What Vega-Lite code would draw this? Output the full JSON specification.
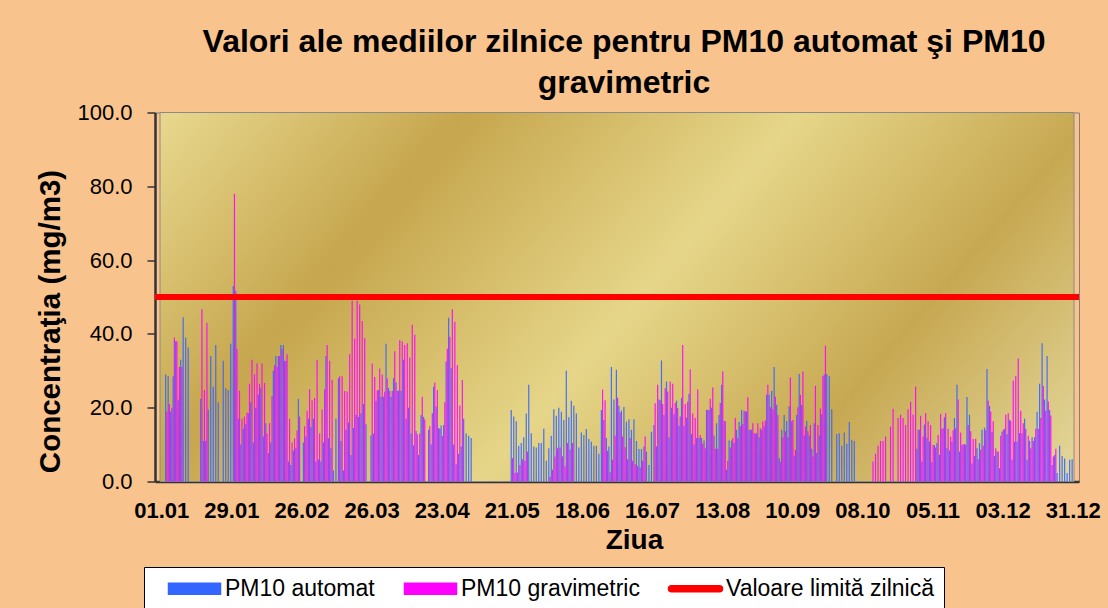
{
  "$schema": "https://vega.github.io/schema/vega-lite/v6.json",
  "width": 924,
  "height": 369,
  "autosize": {"type": "none"},
  "padding": {"left": 155, "top": 112.5, "right": 29, "bottom": 126.5},
  "background": "#f9c38d",
  "config": {
    "font": "Liberation Sans",
    "view": {"stroke": "#7f7f7f", "strokeWidth": 1},
    "axis": {"labelColor": "black", "titleColor": "black", "grid": false},
    "legend": {
      "title": null, "orient": "none", "legendX": -11, "legendY": 454.5, "direction": "horizontal",
      "fillColor": "white", "strokeColor": "black", "padding": 10,
      "labelFontSize": 23, "labelFont": "Liberation Sans", "labelColor": "black", "labelLimit": 400,
      "columnPadding": 15, "symbolSize": 100, "symbolOffset": 29, "labelOffset": 19, "symbolOpacity": 1
    }
  },
  "title": {
    "text": ["Valori ale mediilor zilnice pentru PM10 automat şi PM10", "gravimetric"],
    "font": "Liberation Sans",
    "fontSize": 32,
    "fontWeight": "bold",
    "color": "black",
    "anchor": "middle",
    "dx": 7,
    "offset": 1.5,
    "lineHeight": 41
  },
  "data": {"values": [
    {"d":0},{"d":1},{"d":2,"a":29,"g":19},{"d":3,"a":28.6,"g":21},{"d":4,"a":19,"g":20},{"d":5,"a":28.5,"g":39},{"d":6,"a":38,"g":38},{"d":7,"a":22,"g":31},{"d":8,"a":33,"g":31},{"d":9,"a":44.5},{"d":10,"a":39},{"d":11,"a":36.3},{"d":12},{"d":13},{"d":14},{"d":15},
    {"d":16,"a":22.4,"g":46.7},{"d":17,"a":11,"g":24.8},{"d":18,"a":11,"g":43},{"d":19,"a":19.5},{"d":20,"a":34},{"d":21,"a":25.7},{"d":22,"a":37},{"d":23,"a":21.5},{"d":24},{"d":25,"a":32.7},{"d":26,"a":25.3},{"d":27,"a":24.8},{"d":28,"a":37.3},{"d":29,"a":53,"g":78},{"d":30,"a":51.7,"g":36},
    {"d":31,"a":17,"g":24.6},{"d":32,"a":10,"g":17},{"d":33,"a":14.3,"g":17.6},{"d":34,"a":15.5,"g":18.7},{"d":35,"a":18.5,"g":26.5},{"d":36,"a":21.5,"g":33},{"d":37,"a":10.6,"g":29},{"d":38,"a":20,"g":32},{"d":39,"a":23.5,"g":26.5},{"d":40,"a":25.3,"g":32},
    {"d":41,"a":12.2,"g":26.7},{"d":42,"a":15.8,"g":13},{"d":43,"a":7.7,"g":15.8},{"d":44,"a":10.6,"g":23.2},{"d":45,"a":30,"g":31.5},{"d":46,"a":34,"g":31},{"d":47,"a":34,"g":34},{"d":48,"a":37,"g":36},{"d":49,"a":37,"g":32.7},{"d":50,"a":32.7,"g":34.5},
    {"d":51,"a":5.4,"g":17},{"d":52,"a":4.5,"g":10.6},{"d":53,"a":8.4,"g":11.7},{"d":54,"a":9,"g":13.8},{"d":55,"a":22.4,"g":17.6},{"d":56},{"d":57,"a":10.6,"g":15},{"d":58,"a":12.2,"g":19.2},{"d":59,"a":17,"g":25},{"d":60,"a":14.7,"g":22},
    {"d":61,"a":17,"g":22.6},{"d":62,"a":5.4,"g":33},{"d":63,"a":6,"g":13},{"d":64,"a":5.4,"g":19.5},{"d":65,"a":10.6,"g":25},{"d":66,"a":34,"g":37},{"d":67,"a":11.7,"g":32.7},{"d":68,"a":9,"g":27.6},{"d":69,"a":3},{"d":70,"a":17},
    {"d":71,"a":28,"g":28.5},{"d":72,"a":11,"g":28.5},{"d":73,"a":3,"g":24.5},{"d":74,"a":14,"g":24.4},{"d":75,"a":16,"g":34.5},{"d":76,"a":7.2,"g":49},{"d":77,"a":14.5,"g":38.7},{"d":78,"a":18,"g":49},{"d":79,"a":17.5,"g":48},{"d":80,"a":18.5,"g":43.5},
    {"d":81,"a":21,"g":38.8},{"d":82,"a":15.5},{"d":83},{"d":84,"a":12.5,"g":32},{"d":85,"a":13,"g":28.3},{"d":86,"a":21.8,"g":24.7},{"d":87,"a":24.8,"g":30.6},{"d":88,"a":23,"g":29},{"d":89,"a":23,"g":24.4},{"d":90,"a":37.3,"g":28},
    {"d":91,"a":25.3,"g":24.5},{"d":92,"a":23,"g":24.5},{"d":93,"a":28,"g":35.3},{"d":94,"a":26.8,"g":24.6},{"d":95,"a":24.6,"g":38.3},{"d":96,"a":24.6,"g":38},{"d":97,"a":33,"g":37},{"d":98,"a":17,"g":37.5},{"d":99,"a":20,"g":33.6},{"d":100,"a":13,"g":42.5},
    {"d":101,"a":9.8,"g":39.8},{"d":102,"a":13.7,"g":12.8},{"d":103,"a":7.2,"g":13},{"d":104,"a":18,"g":23},{"d":105,"a":17.5,"g":16.8},{"d":106},{"d":107,"a":14,"g":15},{"d":108,"a":10,"g":18.5},{"d":109,"a":25.7,"g":26.8},{"d":110,"a":20.3,"g":24.8},
    {"d":111,"a":14.5,"g":14.3},{"d":112,"a":15.2,"g":12.3},{"d":113,"a":15.3,"g":21.5},{"d":114,"a":32.5,"g":36},{"d":115,"a":44.4,"g":39.2},{"d":116,"a":30.7,"g":46.7},{"d":117,"a":10,"g":43.3},{"d":118,"a":4.7,"g":31.5},{"d":119,"a":7.5,"g":20.6},{"d":120,"a":9.5,"g":27.5},
    {"d":121,"a":17},{"d":122,"a":13},{"d":123,"a":12.4},{"d":124,"a":11.8},{"d":125},{"d":126},{"d":127},{"d":128},{"d":129},{"d":130},{"d":131},{"d":132},{"d":133},{"d":134},{"d":135},{"d":136},{"d":137},{"d":138},{"d":139},
    {"d":140,"a":19.4,"g":6.3},{"d":141,"a":17.6,"g":2.4},{"d":142,"a":16.3,"g":2.4},{"d":143,"a":9.7,"g":4.5},{"d":144,"a":10.4,"g":6},{"d":145,"a":12,"g":5.6},{"d":146,"a":18.4,"g":8.1},{"d":147,"a":26.2},{"d":148,"a":13.1},{"d":149,"a":9.5},{"d":150,"a":9.2},
    {"d":151,"a":10.4},{"d":152,"a":10.4},{"d":153,"a":14.3},{"d":154,"a":5.6},{"d":155,"a":9,"g":1.3},{"d":156,"a":12.4,"g":3.2},{"d":157,"a":19.6,"g":6.8},{"d":158,"a":17.8,"g":9},{"d":159,"a":20,"g":9.2},{"d":160,"a":18.9,"g":6.8},
    {"d":161,"a":16.7,"g":4.1},{"d":162,"a":30,"g":10.4},{"d":163,"a":17.4,"g":8.6},{"d":164,"a":21.9,"g":10.4},{"d":165,"a":20.5},{"d":166,"a":18.4},{"d":167,"a":9.2},{"d":168,"a":13.3},{"d":169,"a":12.6},{"d":170,"a":14.2},
    {"d":171,"a":11.5},{"d":172,"a":10.8},{"d":173,"a":9.7},{"d":174,"a":9.7},{"d":175,"a":7.5},{"d":176,"a":19.4,"g":24.9},{"d":177,"a":16.7,"g":22},{"d":178,"a":11.8,"g":8.3},{"d":179,"a":9.5,"g":2.5},{"d":180,"a":31,"g":5.9},
    {"d":181,"a":22.2,"g":12.4},{"d":182,"a":30.3,"g":22.7},{"d":183,"a":20.5,"g":18.7},{"d":184,"a":19.2,"g":12.2},{"d":185,"a":20.2,"g":9.3},{"d":186,"a":16.2,"g":6},{"d":187,"a":16.9,"g":11.8},{"d":188,"a":14,"g":5.6},{"d":189,"a":16.9,"g":4.7},{"d":190,"a":11,"g":4.1},
    {"d":191,"a":8.8,"g":3.8},{"d":192,"a":8.8,"g":5.6},{"d":193,"a":9.5,"g":12.2},{"d":194,"a":8.1},{"d":195,"a":4.5},{"d":196,"a":13.5},{"d":197,"a":15.3,"g":21.2},{"d":198,"a":9.5,"g":26.2},{"d":199,"a":22.2,"g":22},{"d":200,"a":32.8,"g":21},
    {"d":201,"a":18,"g":25.3},{"d":202,"a":27.1,"g":24.4},{"d":203,"a":12,"g":27.1},{"d":204,"a":20,"g":26.5},{"d":205,"a":18.2,"g":21.3},{"d":206,"a":21.9,"g":19.9},{"d":207,"a":15.1,"g":17.6},{"d":208,"a":22.6,"g":37},{"d":209,"a":15.1,"g":21},{"d":210,"a":17.3,"g":21.6},
    {"d":211,"a":23.8,"g":30.4},{"d":212,"a":12.9,"g":18.4},{"d":213,"a":10,"g":17.2},{"d":214,"a":11.8,"g":24.9},{"d":215,"a":11.8,"g":12.6},{"d":216,"a":11.8,"g":10.2},{"d":217,"a":11.1,"g":9},{"d":218,"a":19.4,"g":19.4},{"d":219,"a":19.4,"g":22.4},{"d":220,"a":20,"g":25.5},
    {"d":221,"a":12.4,"g":8.9},{"d":222,"a":15.8,"g":8.9},{"d":223,"a":18,"g":21.3},{"d":224,"a":26.2,"g":29.8},{"d":225,"a":16.4,"g":16.4},{"d":226,"a":3.2,"g":5.6},{"d":227,"a":11.1,"g":9.2},{"d":228,"a":11.1,"g":11.8},{"d":229,"a":10.4,"g":17.2},{"d":230,"a":14,"g":11.8},
    {"d":231,"a":16.1,"g":15},{"d":232,"a":19.4,"g":15.5},{"d":233,"a":19.2,"g":19},{"d":234,"a":19,"g":22.8},{"d":235,"a":14,"g":14},{"d":236,"a":14,"g":15.8},{"d":237,"a":13,"g":13.1},{"d":238,"a":13,"g":15.8},{"d":239,"a":12,"g":14.4},{"d":240,"a":14,"g":16.3},
    {"d":241,"a":15,"g":16.5},{"d":242,"a":23.5,"g":26.2},{"d":243,"a":23.5,"g":20.1},{"d":244,"a":24.6,"g":19.6},{"d":245,"a":31,"g":23},{"d":246,"a":20.8,"g":18},{"d":247,"a":6.3,"g":5.4},{"d":248,"a":14,"g":12},{"d":249,"a":18,"g":13.6},{"d":250,"a":16.4,"g":12},
    {"d":251,"a":20.4,"g":28.2},{"d":252,"a":16.3,"g":16.7},{"d":253,"a":7,"g":8.6},{"d":254,"a":18,"g":20.1},{"d":255,"a":29.1,"g":23.5},{"d":256,"a":20.7,"g":29.8},{"d":257,"a":12.5,"g":14.9},{"d":258,"a":16.4,"g":13.6},{"d":259,"a":12.4,"g":15.3},{"d":260,"a":8.9,"g":6.8},
    {"d":261,"a":15.8,"g":25.9},{"d":262,"a":7.7,"g":15.3},{"d":263,"a":12.5,"g":19.8},{"d":264,"a":18.2,"g":28.6},{"d":265,"a":29,"g":36.8},{"d":266,"a":29.1},{"d":267,"a":28.6},{"d":268,"a":19.6},{"d":269},{"d":270,"a":12.9},
    {"d":271,"a":13.1},{"d":272,"a":9.7},{"d":273,"a":13.3},{"d":274,"a":10.2},{"d":275,"a":16.1},{"d":276,"a":11.3},{"d":277,"a":11},{"d":278},{"d":279},{"d":280},
    {"d":281},{"d":282},{"d":283},{"d":284,"g":5.4},{"d":285,"g":7.5},{"d":286,"g":9.7},{"d":287,"g":11},{"d":288,"g":11},{"d":289,"g":12.2},{"d":290},
    {"d":291,"g":14.9},{"d":292,"g":19.7},{"d":293},{"d":294,"g":17.2},{"d":295,"g":18.1},{"d":296,"g":17.2},{"d":297,"g":15.3},{"d":298,"g":19.6},{"d":299,"g":21.6},{"d":300,"g":18.1},
    {"d":301,"g":25.7},{"d":302,"a":8.9,"g":14},{"d":303,"a":14,"g":17.8},{"d":304,"a":5.4,"g":12.2},{"d":305,"a":15.4,"g":18.5},{"d":306,"a":11.8,"g":16.3},{"d":307,"a":10.8,"g":15.3},{"d":308,"a":5.2,"g":9.9},{"d":309,"a":9.9,"g":9.2},{"d":310,"a":10.4,"g":12.6},
    {"d":311,"a":7.2,"g":18.3},{"d":312,"a":14.2,"g":14.4},{"d":313,"a":17.4,"g":18.5},{"d":314,"a":9,"g":14.3},{"d":315,"a":8.4,"g":12.2},{"d":316,"a":10.8,"g":13.9},{"d":317,"a":17.2,"g":14.4},{"d":318,"a":26.2,"g":22.2},{"d":319,"a":8.1,"g":13.3},{"d":320,"a":9.9,"g":10.1},
    {"d":321,"a":10.1,"g":10},{"d":322,"a":22.9,"g":15.3},{"d":323,"a":18.1,"g":13.6},{"d":324,"a":4.9,"g":11.5},{"d":325,"a":6.9,"g":11.6},{"d":326,"a":9,"g":6},{"d":327,"a":10.4,"g":8.6},{"d":328,"a":14,"g":9.7},{"d":329,"a":14.6,"g":13.9},{"d":330,"a":30.5,"g":21.9},
    {"d":331,"a":20.5,"g":19},{"d":332,"a":13.4,"g":16.3},{"d":333,"a":6.9,"g":9},{"d":334,"a":8.1,"g":8.1},{"d":335,"a":3.6,"g":12.4},{"d":336,"a":13.5,"g":14},{"d":337,"a":14.3,"g":18.1},{"d":338,"a":12.8,"g":18.5},{"d":339,"a":16.7,"g":16.4},{"d":340,"a":5.9,"g":27.3},
    {"d":341,"a":10.8,"g":28.6},{"d":342,"a":10.8,"g":33.3},{"d":343,"a":13.1,"g":19.2},{"d":344,"a":13.1,"g":15.8},{"d":345,"a":17,"g":14.3},{"d":346,"a":5.9,"g":12.4},{"d":347,"a":11,"g":9},{"d":348,"a":12,"g":11},{"d":349,"a":12,"g":14.3},{"d":350,"a":18.9,"g":14.3},
    {"d":351,"a":26.5,"g":17.2},{"d":352,"a":37.5,"g":25.9},{"d":353,"a":22.2,"g":19.2},{"d":354,"a":34,"g":21.7},{"d":355,"a":19.4,"g":17.9},{"d":356,"a":4.5,"g":6.8},{"d":357,"a":7.2,"g":8.9},{"d":358,"a":2.3},{"d":359,"a":9.7},{"d":360,"a":6.9},
    {"d":361,"a":6.2},{"d":362,"a":2.3},{"d":363,"a":5.9},{"d":364,"a":6}
  ]},
  "layer": [
    {
      "data": {"values": [{"x0": -0.5, "x1": 364.5, "y0": 0, "y1": 100}]},
      "mark": {
        "type": "rect",
        "stroke": "#8a8a8a",
        "strokeWidth": 1,
        "color": {
          "gradient": "linear", "x1": 0, "y1": 0, "x2": 1.2, "y2": 0.42,
          "stops": [
            {"offset": 0, "color": "#e8d88e"},
            {"offset": 0.25, "color": "#c6a64e"},
            {"offset": 0.52, "color": "#e6d689"},
            {"offset": 0.76, "color": "#c7a852"},
            {"offset": 1, "color": "#e4d89c"}
          ]
        }
      },
      "encoding": {
        "x": {"field": "x0", "type": "quantitative", "title": "Ziua"},
        "x2": {"field": "x1"},
        "y": {"field": "y0", "type": "quantitative", "title": "Concentraţia (mg/m3)"},
        "y2": {"field": "y1"}
      }
    },
    {
      "mark": {"type": "bar", "orient": "vertical", "width": 1.2, "xOffset": -0.6, "opacity": 0.9},
      "encoding": {
        "x": {
          "field": "d", "type": "quantitative", "title": "Ziua",
          "scale": {"domain": [-0.5, 364.5], "nice": false, "zero": false},
          "axis": {
            "values": [0, 28, 56, 84, 112, 140, 168, 196, 224, 252, 280, 308, 336, 364],
            "labelExpr": "['01.01','29.01','26.02','26.03','23.04','21.05','18.06','16.07','13.08','10.09','08.10','05.11','03.12','31.12'][round(datum.value/28)]",
            "labelFontSize": 22, "labelFontWeight": "bold", "labelFont": "Liberation Sans",
            "ticks": false, "tickSize": 0, "labelPadding": 19, "labelOverlap": false, "labelFlush": false,
            "domainColor": "#333333", "domainWidth": 2.5,
            "titleFontSize": 28, "titleFontWeight": "bold", "titleX": 479, "titleY": 45, "titleBaseline": "top"
          }
        },
        "y": {
          "field": "a", "type": "quantitative", "title": "Concentraţia (mg/m3)",
          "scale": {"domain": [0, 100]},
          "axis": {
            "values": [0, 20, 40, 60, 80, 100], "format": ".1f",
            "labelFontSize": 22, "labelFont": "Liberation Sans", "labelPadding": 15,
            "tickSize": 8, "tickColor": "#333333", "tickWidth": 1.5,
            "domainColor": "#333333", "domainWidth": 2.5,
            "titleFontSize": 29.5, "titleFontWeight": "bold", "titleX": -90, "titleY": 208.5
          }
        },
        "color": {
          "datum": "PM10 automat",
          "scale": {
            "domain": ["PM10 automat", "PM10 gravimetric", "Valoare limită zilnică"],
            "range": ["#3366ff", "#ff00ff", "#ff0000"]
          },
          "legend": {
            "symbolType": {"expr": "datum.value === 'Valoare limită zilnică' ? 'M-4.8,-0.6H4.8A0.6,0.6 0 0 1 4.8,0.6H-4.8A0.6,0.6 0 0 1 -4.8,-0.6Z' : 'M-5.2,-1.1H5.2V1.1H-5.2Z'"}
          }
        }
      }
    },
    {
      "mark": {"type": "bar", "orient": "vertical", "width": 1.2, "xOffset": 0.6, "opacity": 0.9},
      "encoding": {
        "x": {"field": "d", "type": "quantitative", "title": "Ziua"},
        "y": {"field": "g", "type": "quantitative", "title": "Concentraţia (mg/m3)"},
        "color": {
          "datum": "PM10 gravimetric",
          "legend": {
            "symbolType": {"expr": "datum.value === 'Valoare limită zilnică' ? 'M-4.8,-0.6H4.8A0.6,0.6 0 0 1 4.8,0.6H-4.8A0.6,0.6 0 0 1 -4.8,-0.6Z' : 'M-5.2,-1.1H5.2V1.1H-5.2Z'"}
          }
        }
      }
    },
    {
      "mark": {"type": "rule", "strokeWidth": 5.5},
      "encoding": {
        "y": {"datum": 50, "type": "quantitative", "title": "Concentraţia (mg/m3)"},
        "color": {
          "datum": "Valoare limită zilnică",
          "legend": {
            "symbolType": {"expr": "datum.value === 'Valoare limită zilnică' ? 'M-4.8,-0.6H4.8A0.6,0.6 0 0 1 4.8,0.6H-4.8A0.6,0.6 0 0 1 -4.8,-0.6Z' : 'M-5.2,-1.1H5.2V1.1H-5.2Z'"}
          }
        }
      }
    }
  ]
}
